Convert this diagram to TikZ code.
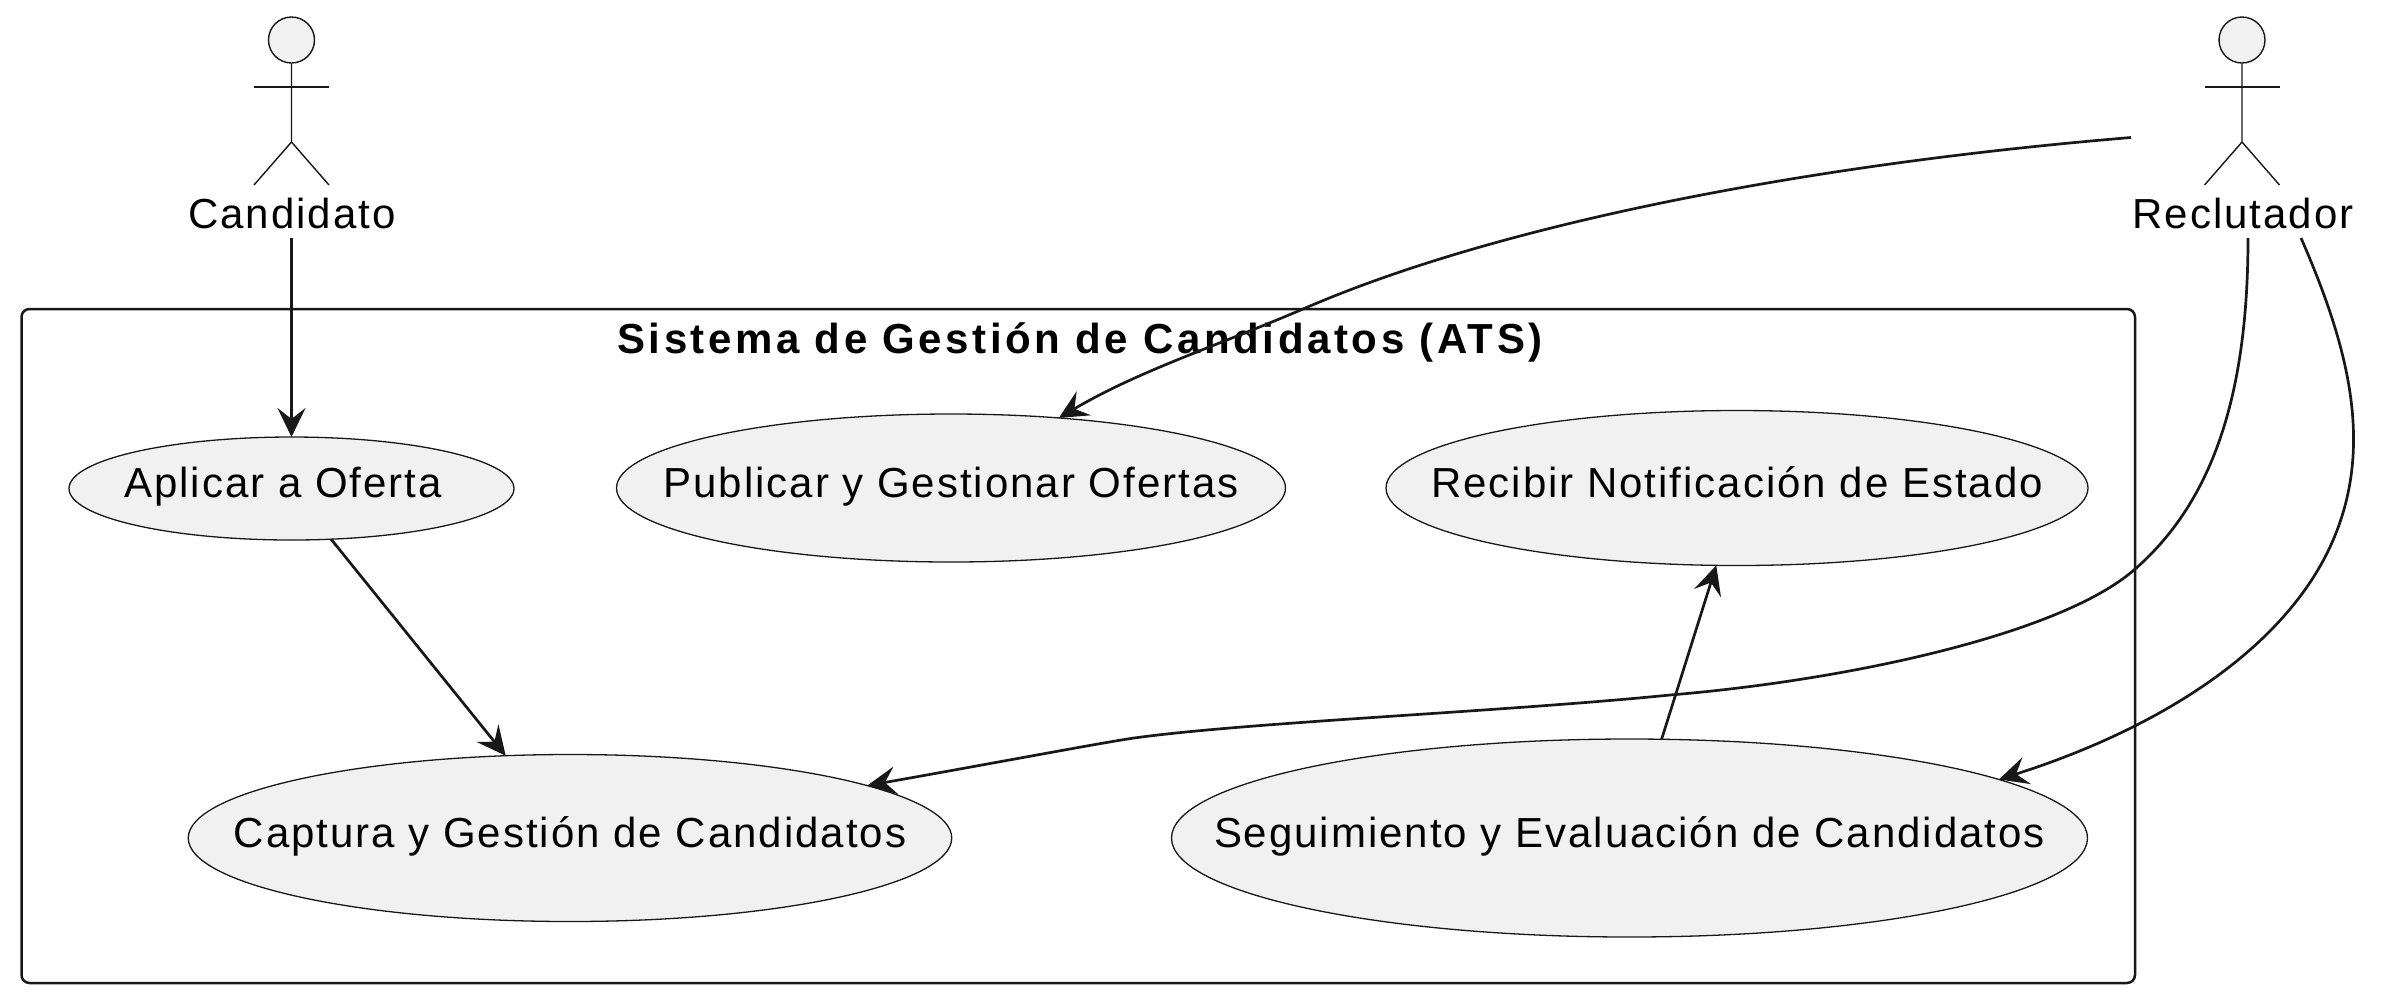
\documentclass[tikz,border=0pt]{standalone}
\usepackage{fontspec}
\setmainfont[LetterSpace=4.7,BoldFeatures={LetterSpace=8.5}]{Liberation Sans}
\usetikzlibrary{arrows.meta,shapes.geometric}

\definecolor{umlline}{HTML}{181818}
\definecolor{umlfill}{HTML}{F1F1F1}

\tikzset{
  usecase/.style 2 args={ellipse,draw=umlline,line width=0.65pt,fill=umlfill,inner sep=0pt,outer sep=0pt,
    minimum width=#1*0.5pt,minimum height=#2*0.5pt},
  every label/.style={text=black,text height=16pt,text depth=7pt,inner sep=0pt},
  actorlabel/.style={text=black,anchor=base,inner sep=0pt},
  limb/.style={draw=umlline,line width=0.7pt},
  rel/.style={draw=umlline,line width=1.35pt,-{Stealth[length=14.5pt,width=14pt,inset=5.5pt]}}
}

\begin{document}
\begin{tikzpicture}[x=0.5pt,y=-0.5pt,font=\fontsize{21}{25}\selectfont]
\useasboundingbox (0,0) rectangle (2400,998);

% boundary
\draw[umlline,line width=1.25pt,rounded corners=4pt] (21.5,309) rectangle (2135,983);
\node[actorlabel,font=\fontsize{21}{25}\selectfont\bfseries] (sistema) at (1080,353) {Sistema de Gestión de Candidatos (ATS)};

% actors
\node[circle,draw=umlline,line width=0.7pt,fill=umlfill,minimum size=23pt,inner sep=0pt] (headcand) at (291.5,40) {};
\draw[limb] (headcand.south)--(291.5,142)--(254,185);
\draw[limb] (291.5,142)--(329,185);
\draw[limb] (254,87)--(329,87);
\node[actorlabel] (candidato) at (292,228) {Candidato};

\node[circle,draw=umlline,line width=0.7pt,fill=umlfill,minimum size=23pt,inner sep=0pt] (headrecl) at (2242,40) {};
\draw[limb] (headrecl.south)--(2242,142)--(2204.5,185);
\draw[limb] (2242,142)--(2279.5,185);
\draw[limb] (2204.5,87)--(2279.5,87);
\node[actorlabel] (reclutador) at (2243,228) {Reclutador};

% use cases
\node[usecase={445}{103},label={[xshift=-4.25pt]center:Aplicar a Oferta}] (aplicar) at (291.5,488.5) {};
\node[usecase={669}{148},label={center:Publicar y Gestionar Ofertas}] (publicar) at (951,488) {};
\node[usecase={702}{155},label={center:Recibir Notificación de Estado}] (recibir) at (1737,488) {};
\node[usecase={763.5}{167},label={center:Captura y Gestión de Candidatos}] (captura) at (570,838) {};
\node[usecase={916}{198},label={center:Seguimiento y Evaluación de Candidatos}] (seguimiento) at (1629.5,838) {};

% free ends under the actors
\coordinate (candout) at (291.5,238);
\coordinate (reclside) at (2131,137.5);
\coordinate (reclmid) at (2248,238);
\coordinate (reclright) at (2301,238);

\draw[rel] (candout)--(aplicar.north);
\draw[rel] (aplicar.-52)--(captura.128);
\draw[rel] (seguimiento.72)--(recibir.255);
\draw[rel] (reclside) .. controls (1800,165) and (1500,225) .. (1310,306)
  .. controls (1220,345) and (1140,370) .. (publicar.33.6);
\draw[rel] (reclmid) .. controls (2248,390) and (2215,500) .. (2134,570)
  .. controls (2060,634) and (1850,680) .. (1670,695)
  .. controls (1500,712) and (1250,722) .. (1134,738)
  .. controls (1100,743) and (1000,762) .. (captura.10.5);
\draw[rel] (reclright) .. controls (2350,350) and (2375,450) .. (2330,547)
  .. controls (2285,644) and (2170,725) .. (seguimiento.9.6);

\end{tikzpicture}
\end{document}
